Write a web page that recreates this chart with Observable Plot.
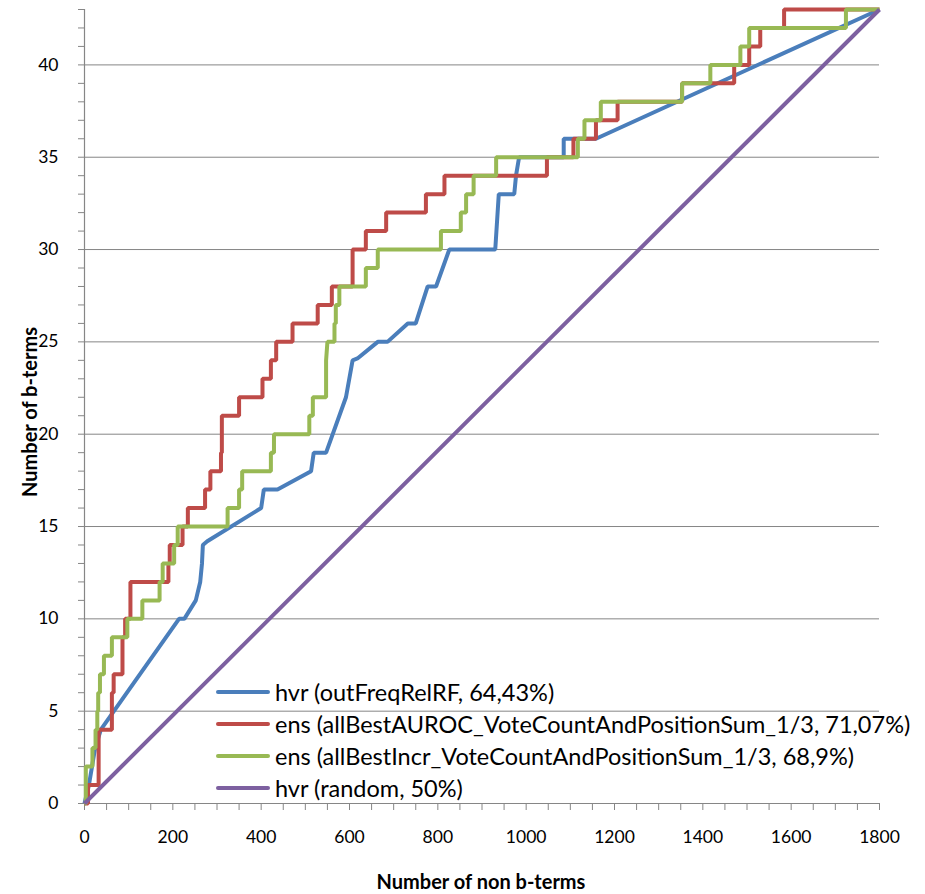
<!DOCTYPE html>
<html>
<head>
<meta charset="utf-8">
<script src="https://cdn.jsdelivr.net/npm/d3@7"></script>
<script src="https://cdn.jsdelivr.net/npm/@observablehq/plot@0.6"></script>
<style>
  body { margin: 0; background: #fff; }
  #wrap { position: relative; width: 925px; height: 894px; font-family: "Lato", "Open Sans", sans-serif; }
  #wrap svg { position: absolute; left: 0; top: 0; }
  .title { position: absolute; font-weight: bold; font-size: 20px; color: #000; white-space: nowrap; }
  .legend { position: absolute; left: 216px; top: 676px; font-size: 23.5px; color: #000; }
  .legend .row { display: flex; align-items: center; height: 32px; white-space: nowrap; }
  .legend .sw { width: 54px; height: 4px; border-radius: 2px; margin-right: 5px; }
</style>
</head>
<body>
<div id="wrap"></div>
<script>
// ---- data ----
const seriesNames = [
  "hvr (outFreqRelRF, 64,43%)",
  "ens (allBestAUROC_VoteCountAndPositionSum_1/3, 71,07%)",
  "ens (allBestIncr_VoteCountAndPositionSum_1/3, 68,9%)",
  "hvr (random, 50%)"
];
const seriesColors = ["#4a7ebb", "#be4b48", "#98b954", "#7d60a0"];

const blueX = [0,10,17,24,37,214,226,252,262,266,268,278,400,406,437,513,519,547,592,607,618,664,686,732,750,777,796,826,930,938,973,977,984,1085,1085,1158,1800];
const blueY = [0,1,2,3,4,10,10,11,12,13,14,14.2,16,17,17,18,19,19,22,24,24.1,25,25,26,26,28,28,30,30,33,33,34,35,35,36,36,43];

const redX = [0,8,8,32,32,62,62,66,66,86,86,92,92,104,104,190,190,193,193,222,222,234,234,273,273,285,285,309,309,311,311,350,350,403,403,422,422,434,434,471,471,528,528,560,560,607,607,637,637,683,683,773,773,815,815,1047,1047,1107,1107,1158,1158,1207,1207,1353,1353,1471,1471,1505,1505,1530,1530,1584,1584,1800];
const redY = [0,0,1,1,4,4,6,6,7,7,9,9,10,10,12,12,13,13,14,14,15,15,16,16,17,17,18,18,19,19,21,21,22,22,23,23,24,24,25,25,26,26,27,27,28,28,30,30,31,31,32,32,33,33,34,34,35,35,36,36,37,37,38,38,39,39,40,40,41,41,42,42,43,43];

const greenX = [0,3,3,18,18,25,25,29,29,31,31,35,35,44,44,62,62,97,97,131,131,170,170,177,177,203,203,211,211,324,324,350,350,357,357,422,422,429,429,509,509,517,517,547,547,550,566,566,569,569,577,577,637,637,664,664,807,807,852,852,864,864,881,881,932,932,1117,1117,1132,1132,1169,1169,1353,1353,1417,1417,1485,1485,1505,1505,1724,1724,1800];
const greenY = [0,0,2,2,3,3,4,4,5,5,6,6,7,7,8,8,9,9,10,10,11,11,12,12,13,13,14,14,15,15,16,16,17,17,18,18,19,19,20,20,21,21,22,22,24,25,25,26,26,27,27,28,28,29,29,30,30,31,31,32,32,33,33,34,34,35,35,36,36,37,37,38,38,39,39,40,40,41,41,42,42,43,43];

const purpleX = [0, 1800];
const purpleY = [0, 43];

const xLabelTicks = [0,200,400,600,800,1000,1200,1400,1600,1800];
const xMinorTicks = d3.range(0, 1801, 50);
const yLabelTicks = [0,5,10,15,20,25,30,35,40];
const yMinorTicks = d3.range(0, 44, 1);
const yGridTicks = [5,10,15,20,25,30,35,40];
const xTitle = "Number of non b-terms";
const yTitle = "Number of b-terms";

// ---- build ----
const toPts = (xs, ys) => xs.map((x, i) => ({x, y: ys[i]}));
const series = [toPts(blueX, blueY), toPts(redX, redY), toPts(greenX, greenY), toPts(purpleX, purpleY)];
const axisColor = "#868686";

const chart = Plot.plot({
  width: 925,
  height: 894,
  marginLeft: 84,
  marginRight: 46,
  marginTop: 9,
  marginBottom: 91,
  x: {domain: [0, 1800]},
  y: {domain: [0, 43]},
  style: {fontFamily: "Lato, 'Open Sans', sans-serif", fontSize: "17.5px", color: "#000", background: "transparent"},
  marks: [
    Plot.gridY(yGridTicks, {stroke: axisColor, strokeOpacity: 1, strokeWidth: 1}),
    Plot.axisY(yMinorTicks, {tickSize: 6, tickFormat: () => "", stroke: axisColor, strokeOpacity: 1, label: null}),
    Plot.axisY(yLabelTicks, {tickSize: 0, tickPadding: 26, tickFormat: d => String(d), label: null, fill: "#000"}),
    Plot.axisX(xMinorTicks, {tickSize: 7, tickFormat: () => "", stroke: axisColor, strokeOpacity: 1, label: null}),
    Plot.axisX(xLabelTicks, {tickSize: 0, tickPadding: 27, tickFormat: d => String(d), label: null, fill: "#000"}),
    Plot.ruleX([0], {stroke: axisColor, strokeWidth: 1.2}),
    Plot.ruleY([0], {stroke: axisColor, strokeWidth: 1.2}),
    ...series.map((pts, i) => Plot.line(pts, {x: "x", y: "y", stroke: seriesColors[i], strokeWidth: 4, strokeLinejoin: "miter", strokeLinecap: "butt"}))
  ]
});

const wrap = document.getElementById("wrap");
wrap.appendChild(chart);

const xt = document.createElement("div");
xt.className = "title";
xt.textContent = xTitle;
xt.style.left = "481px";
xt.style.top = "881px";
xt.style.transform = "translate(-50%, -50%)";
wrap.appendChild(xt);

const yt = document.createElement("div");
yt.className = "title";
yt.textContent = yTitle;
yt.style.left = "29px";
yt.style.top = "412px";
yt.style.transform = "translate(-50%, -50%) rotate(-90deg)";
wrap.appendChild(yt);

const leg = document.createElement("div");
leg.className = "legend";
seriesNames.forEach((name, i) => {
  const row = document.createElement("div");
  row.className = "row";
  const sw = document.createElement("div");
  sw.className = "sw";
  sw.style.background = seriesColors[i];
  const tx = document.createElement("span");
  tx.textContent = name;
  row.appendChild(sw);
  row.appendChild(tx);
  leg.appendChild(row);
});
wrap.appendChild(leg);
</script>
</body>
</html>
